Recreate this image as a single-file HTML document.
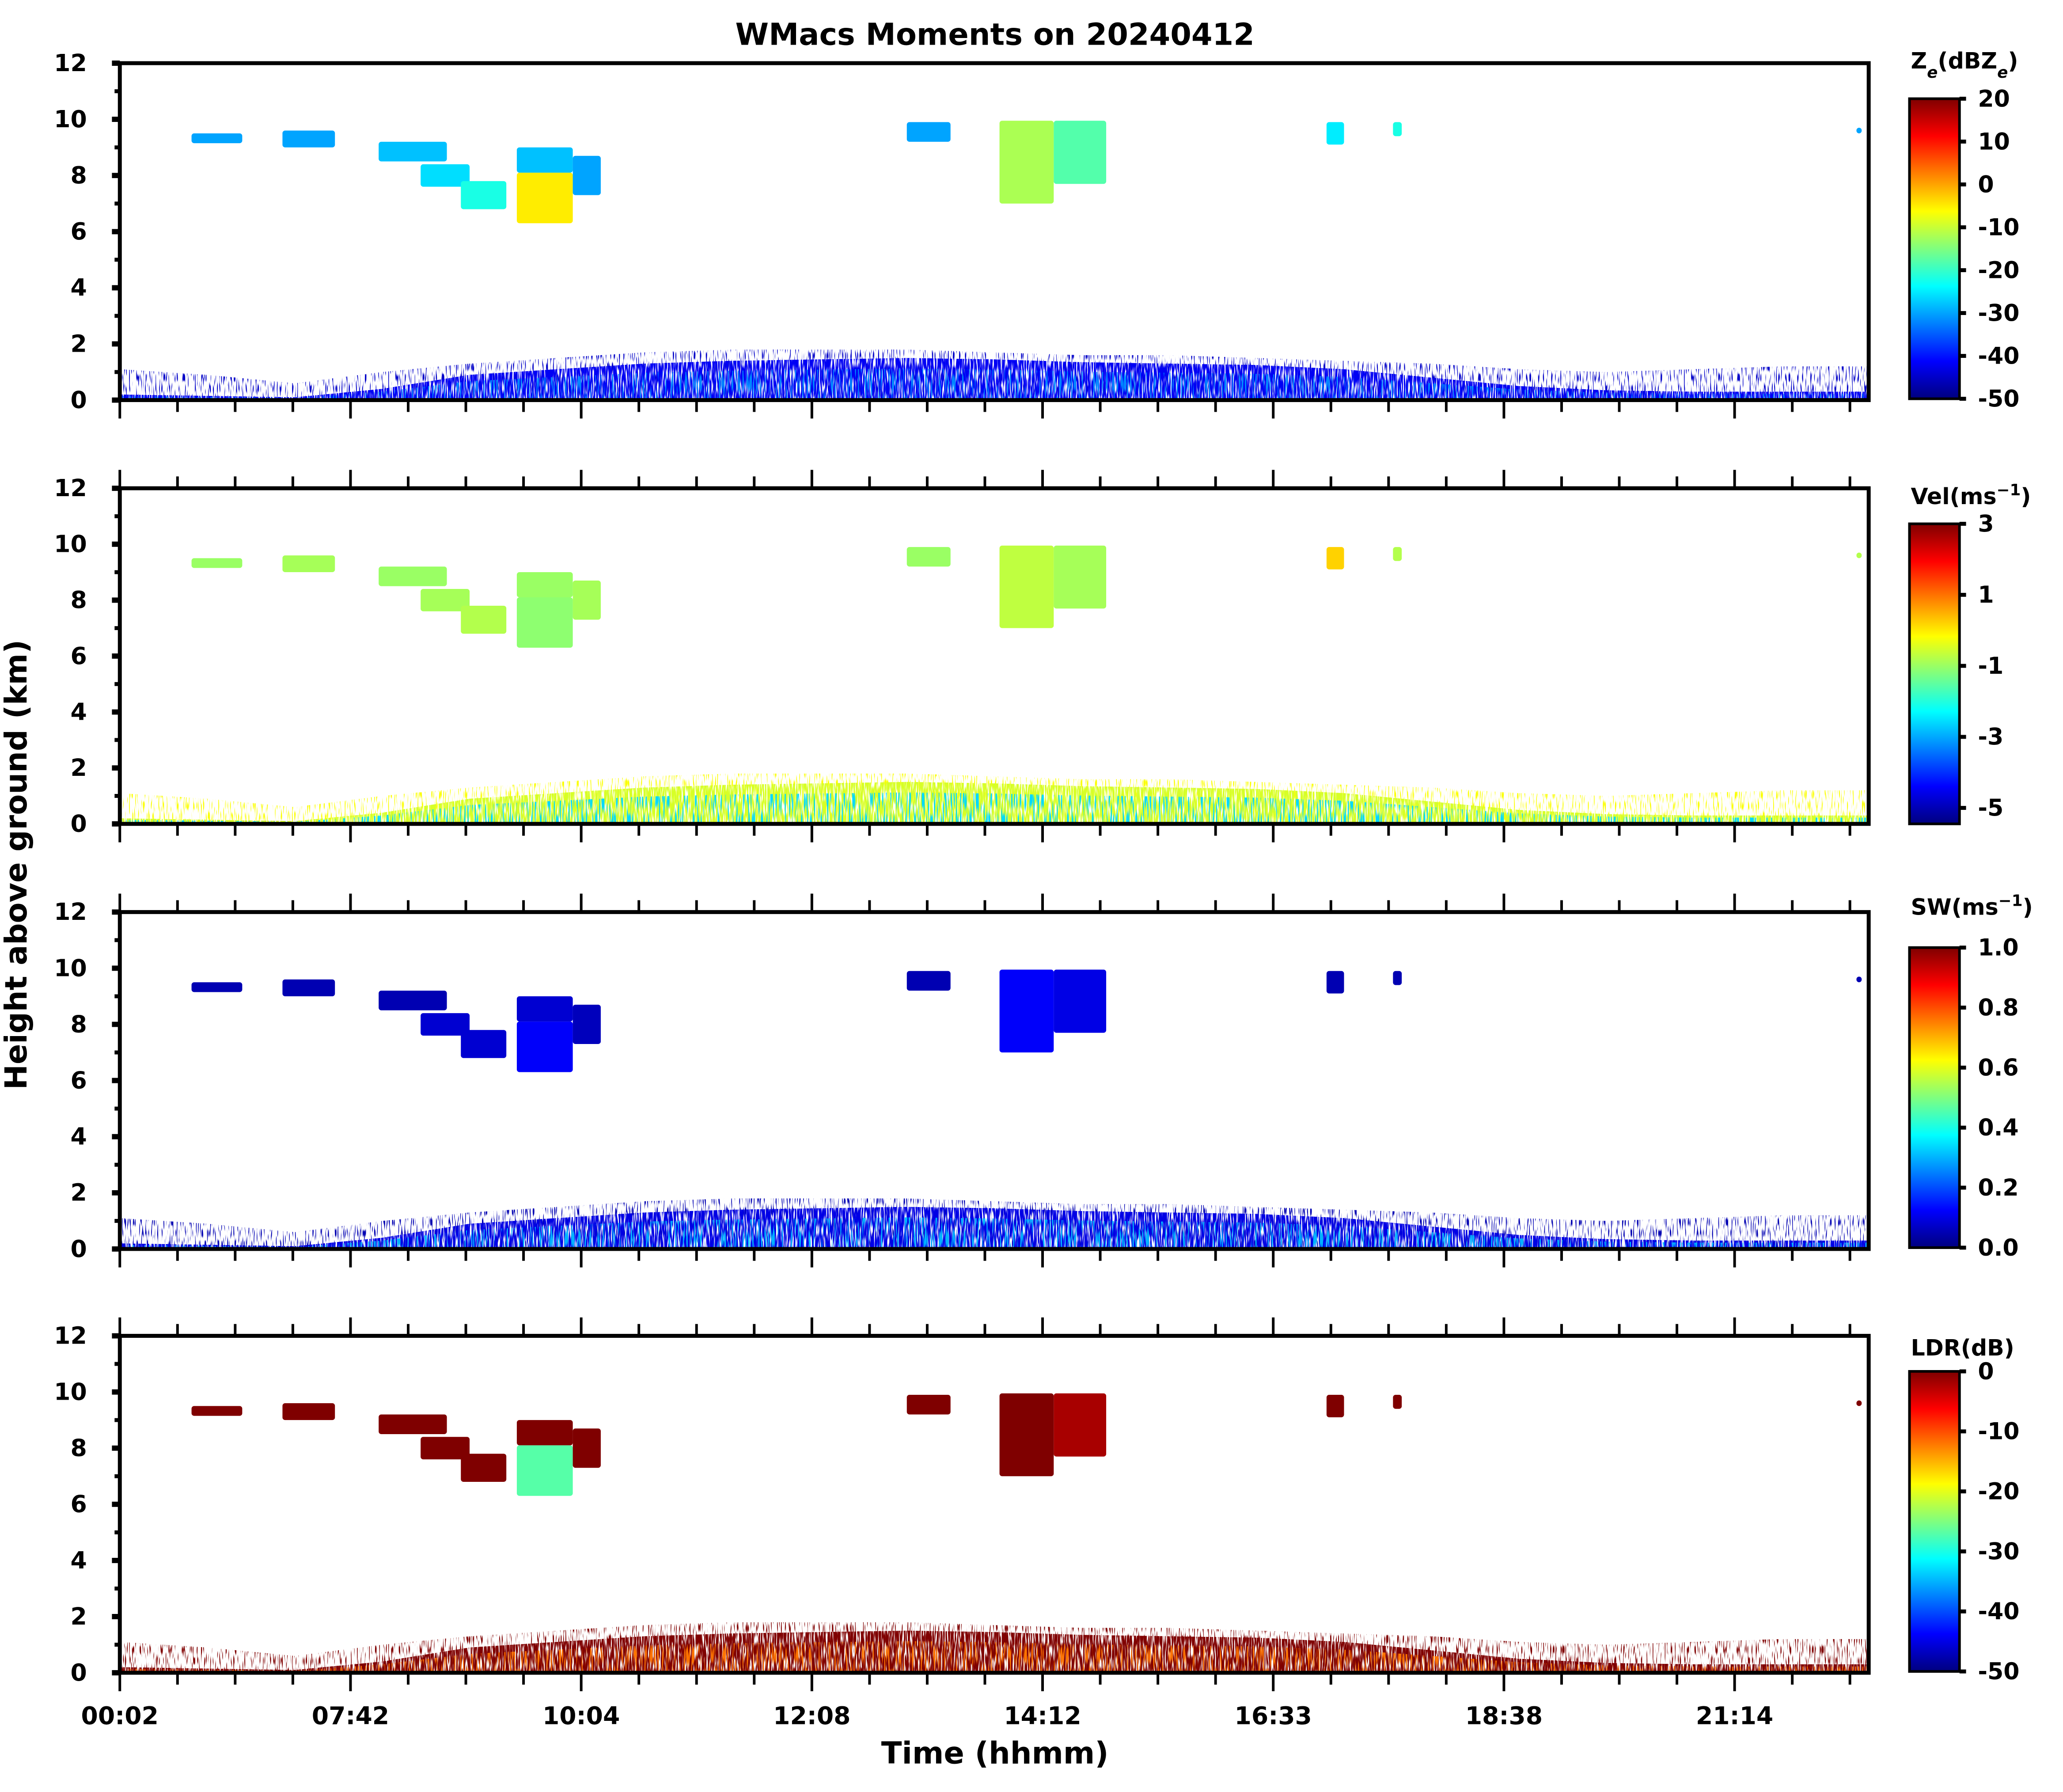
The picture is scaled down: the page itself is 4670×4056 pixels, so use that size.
<!DOCTYPE html>
<html><head><meta charset="utf-8"><style>
html,body{margin:0;padding:0;background:#fff}
svg{display:block}
text{font-family:"DejaVu Sans","Liberation Sans",sans-serif;font-weight:bold;fill:#000}
</style></head><body>
<svg id="fig" width="4670" height="4056" viewBox="0 0 1567.6 1361.6" xmlns="http://www.w3.org/2000/svg">
<defs>
<linearGradient id="jet" x1="0" y1="1" x2="0" y2="0">
<stop offset="0" stop-color="#00007f"/><stop offset="0.125" stop-color="#0000ff"/><stop offset="0.375" stop-color="#00ffff"/><stop offset="0.5" stop-color="#7fff7f"/><stop offset="0.625" stop-color="#ffff00"/><stop offset="0.875" stop-color="#ff0000"/><stop offset="1" stop-color="#7f0000"/>
</linearGradient>
<filter id="spkSparse" x="-0.05" y="-0.05" width="1.1" height="1.1">
<feTurbulence type="fractalNoise" baseFrequency="1.3 0.12" numOctaves="1" seed="4" result="n"/>
<feColorMatrix in="n" type="matrix" values="0 0 0 0 0  0 0 0 0 0  0 0 0 0 0  0 0 0 9 -5.0" result="m"/>
<feComposite in="SourceGraphic" in2="m" operator="in"/>
</filter>
<filter id="spkCore" x="-0.05" y="-0.05" width="1.1" height="1.1">
<feTurbulence type="fractalNoise" baseFrequency="1.1 0.1" numOctaves="1" seed="9" result="n"/>
<feColorMatrix in="n" type="matrix" values="0 0 0 0 0  0 0 0 0 0  0 0 0 0 0  0 0 0 7 -2.6" result="m"/>
<feComposite in="SourceGraphic" in2="m" operator="in"/>
</filter>
<filter id="spkMix" x="-0.05" y="-0.05" width="1.1" height="1.1">
<feTurbulence type="fractalNoise" baseFrequency="0.9 0.06" numOctaves="1" seed="21" result="n"/>
<feColorMatrix in="n" type="matrix" values="0 0 0 0 0  0 0 0 0 0  0 0 0 0 0  0 0 0 9 -4.8" result="m"/>
<feComposite in="SourceGraphic" in2="m" operator="in"/>
</filter>
</defs>
<text x="756" y="34" font-size="23" text-anchor="middle">WMacs Moments on 20240412</text>
<text transform="translate(20,657) rotate(-90)" font-size="23" text-anchor="middle">Height above ground (km)</text>
<text x="756" y="1340" font-size="23" text-anchor="middle">Time (hhmm)</text>
<g id="plots"></g>
</svg>
<script>
// ---- data ----
const xTickLabels = ["00:02","07:42","10:04","12:08","14:12","16:33","18:38","21:14"];
const yTicks = [0,2,4,6,8,10,12];
// cloud patches: time fraction start/end (%), height bottom/top (km)
const cloudT0 = [4.1, 9.3, 14.8, 17.2, 19.5, 22.7, 22.7, 25.9, 45.0, 50.3, 53.4, 69.0, 72.8, 99.3];
const cloudT1 = [7.0, 12.3, 18.7, 20.0, 22.1, 25.9, 25.9, 27.5, 47.5, 53.4, 56.4, 70.0, 73.3, 99.6];
const cloudH0 = [9.15, 9.0, 8.5, 7.6, 6.8, 8.1, 6.3, 7.3, 9.2, 7.0, 7.7, 9.1, 9.4, 9.5];
const cloudH1 = [9.5, 9.6, 9.2, 8.4, 7.8, 9.0, 8.1, 8.7, 9.9, 9.95, 9.95, 9.9, 9.9, 9.7];
const cloudZe  = [-30, -30, -28, -26, -22, -28, -5, -30, -30, -12, -18, -25, -22, -30];
const cloudVel = [-1.0, -0.9, -1.0, -0.9, -0.8, -1.0, -1.1, -0.9, -1.0, -0.7, -0.9, 0.2, -0.8, -0.8];
const cloudSW  = [0.05, 0.05, 0.05, 0.08, 0.08, 0.08, 0.12, 0.06, 0.05, 0.12, 0.10, 0.05, 0.05, 0.05];
const cloudLDR = [0, 0, 0, 0, 0, 0, -27, 0, 0, 0, -2, 0, 0, 0];
// boundary layer: time fraction (%), sparse top, dense core top (km)
const blTime   = [0, 5, 10, 15, 20, 25, 30, 35, 40, 45, 50, 55, 60, 65, 70, 75, 80, 85, 90, 95, 100];
const blSparse = [1.1, 0.9, 0.6, 1.0, 1.3, 1.5, 1.7, 1.8, 1.8, 1.8, 1.7, 1.6, 1.6, 1.5, 1.4, 1.3, 1.1, 1.0, 1.1, 1.2, 1.2];
const blCore   = [0.2, 0.15, 0.1, 0.4, 0.9, 1.1, 1.3, 1.4, 1.45, 1.5, 1.45, 1.35, 1.3, 1.25, 1.1, 0.8, 0.5, 0.35, 0.3, 0.3, 0.3];
// per-panel BL values: [sparse, core, inner mix]
const blZe  = [-45, -42, -32];
const blVel = [-0.2, -0.5, -2.6];
const blSW  = [0.05, 0.1, 0.3];
const blLDR = [0, 0, -12];
const zeTicks = [20,10,0,-10,-20,-30,-40,-50];
const velTicks = [3,1,-1,-3,-5];
const swTicks = [1.0,0.8,0.6,0.4,0.2,0.0];
const ldrTicks = [0,-10,-20,-30,-40,-50];

// ---- layout ----
const X0=91, X1=1420, CBX=1451, CBW=38;
const panels = [
 {key:"ze", top:48, bot:304, cbTop:75, cbBot:303, vmin:-50, vmax:20, ticks:zeTicks, dec:0, label:'Z<tspan baseline-shift="sub" font-size="12" font-style="italic">e</tspan>(dBZ<tspan baseline-shift="sub" font-size="12" font-style="italic">e</tspan>)', ly:52, vals:cloudZe, bl:blZe, topTicks:false},
 {key:"vel", top:371, bot:626, cbTop:398, cbBot:626, vmin:-5.45, vmax:3, ticks:velTicks, dec:0, label:'Vel(ms<tspan baseline-shift="super" font-size="12">−1</tspan>)', ly:383, vals:cloudVel, bl:blVel, topTicks:true},
 {key:"sw", top:693, bot:949, cbTop:720, cbBot:948, vmin:0, vmax:1, ticks:swTicks, dec:1, label:'SW(ms<tspan baseline-shift="super" font-size="12">−1</tspan>)', ly:695, vals:cloudSW, bl:blSW, topTicks:true},
 {key:"ldr", top:1015, bot:1271, cbTop:1042, cbBot:1270, vmin:-50, vmax:0, ticks:ldrTicks, dec:0, label:'LDR(dB)', ly:1030, vals:cloudLDR, bl:blLDR, topTicks:true}
];
const NS="http://www.w3.org/2000/svg";
const root=document.getElementById('plots');
function mk(tag, attrs, parent){const e=document.createElementNS(NS,tag);for(const k in attrs)e.setAttribute(k,attrs[k]);(parent||root).appendChild(e);return e;}
function jet(t){t=Math.max(0,Math.min(1,t));
 const st=[[0,0,0,127],[0.125,0,0,255],[0.375,0,255,255],[0.5,127,255,127],[0.625,255,255,0],[0.875,255,0,0],[1,127,0,0]];
 for(let i=1;i<st.length;i++){if(t<=st[i][0]){const a=st[i-1],b=st[i],f=(t-a[0])/(b[0]-a[0]);
  return `rgb(${Math.round(a[1]+f*(b[1]-a[1]))},${Math.round(a[2]+f*(b[2]-a[2]))},${Math.round(a[3]+f*(b[3]-a[3]))})`;}}
 return 'rgb(127,0,0)';}
const xs = f => X0 + f/100*(X1-X0);
const majorFrac = i => i*175.3/(X1-X0)*100;

panels.forEach((p,pi)=>{
 const ys = h => p.bot - h/12*(p.bot-p.top);
 const col = v => jet((v-p.vmin)/(p.vmax-p.vmin));
 const g=mk('g',{});
 
 
 let pts=blTime.map((t,i)=>xs(t)+','+ys(blSparse[i])).join(' ')+` ${xs(100)},${ys(0)} ${xs(0)},${ys(0)}`;
 const s=mk('polygon',{points:pts,fill:col(p.bl[0]),filter:'url(#spkSparse)'},g);
 
 
 pts=blTime.map((t,i)=>xs(t)+','+ys(blCore[i])).join(' ')+` ${xs(100)},${ys(0)} ${xs(0)},${ys(0)}`;
 const c=mk('polygon',{points:pts,fill:col(p.bl[1]),filter:'url(#spkCore)'},g);
 
 
 pts=blTime.map((t,i)=>xs(t)+','+ys(blCore[i]*0.75)).join(' ')+` ${xs(100)},${ys(0)} ${xs(0)},${ys(0)}`;
 const m=mk('polygon',{points:pts,fill:col(p.bl[2]),filter:'url(#spkMix)'},g);
 
 
 cloudT0.forEach((t0,i)=>{
  const r=mk('rect',{x:xs(t0),y:ys(cloudH1[i]),width:xs(cloudT1[i])-xs(t0),height:ys(cloudH0[i])-ys(cloudH1[i]),rx:2,fill:col(p.vals[i])},g);
  
  
 });
 const f=mk('rect',{x:X0,y:p.top,width:X1-X0,height:p.bot-p.top,fill:'none',stroke:'#000','stroke-width':3},g);
 
 
 for(let h=0;h<=12;h++){
  const major=h%2===0;
  mk('line',{x1:X0-(major?6:4),x2:X0,y1:ys(h),y2:ys(h),stroke:'#000','stroke-width':major?4:3},g);
 }
 yTicks.forEach(h=>{
  const t=mk('text',{x:66,y:ys(h)+6,'font-size':18,'text-anchor':'end'},g);
  t.textContent=h;
  
  
 });
 for(let k=0;k<=30;k++){
  const f2=majorFrac(k/4); if(f2>100.5) break;
  const major=k%4===0, x=xs(f2), L=major?14:9;
  mk('line',{x1:x,x2:x,y1:p.bot+1,y2:p.bot+L,stroke:'#000','stroke-width':2},g);
  if(p.topTicks) mk('line',{x1:x,x2:x,y1:p.top-L,y2:p.top-1,stroke:'#000','stroke-width':2},g);
 }
 if(pi===3){
  xTickLabels.forEach((lab,i)=>{
   const t=mk('text',{x:xs(majorFrac(i)),y:1310,'font-size':18.5,'text-anchor':'middle'},g);
   t.textContent=lab;
   
   
  });
 }
 const cb=mk('rect',{x:CBX,y:p.cbTop,width:CBW,height:p.cbBot-p.cbTop,fill:'url(#jet)',stroke:'#000','stroke-width':2},g);
 
 
 const cys = v => p.cbBot - (v-p.vmin)/(p.vmax-p.vmin)*(p.cbBot-p.cbTop);
 p.ticks.forEach(v=>{
  const y=cys(v);
  mk('line',{x1:CBX+CBW,x2:CBX+CBW+5,y1:y,y2:y,stroke:'#000','stroke-width':3},g);
  const t=mk('text',{x:1503,y:y+6,'font-size':17.5},g);
  t.textContent=v.toFixed(p.dec);
  
  
 });
 const lt=mk('text',{x:1452,y:p.ly,'font-size':17},g);
 lt.innerHTML=p.label;
 
 
});
</script>
</body></html>
